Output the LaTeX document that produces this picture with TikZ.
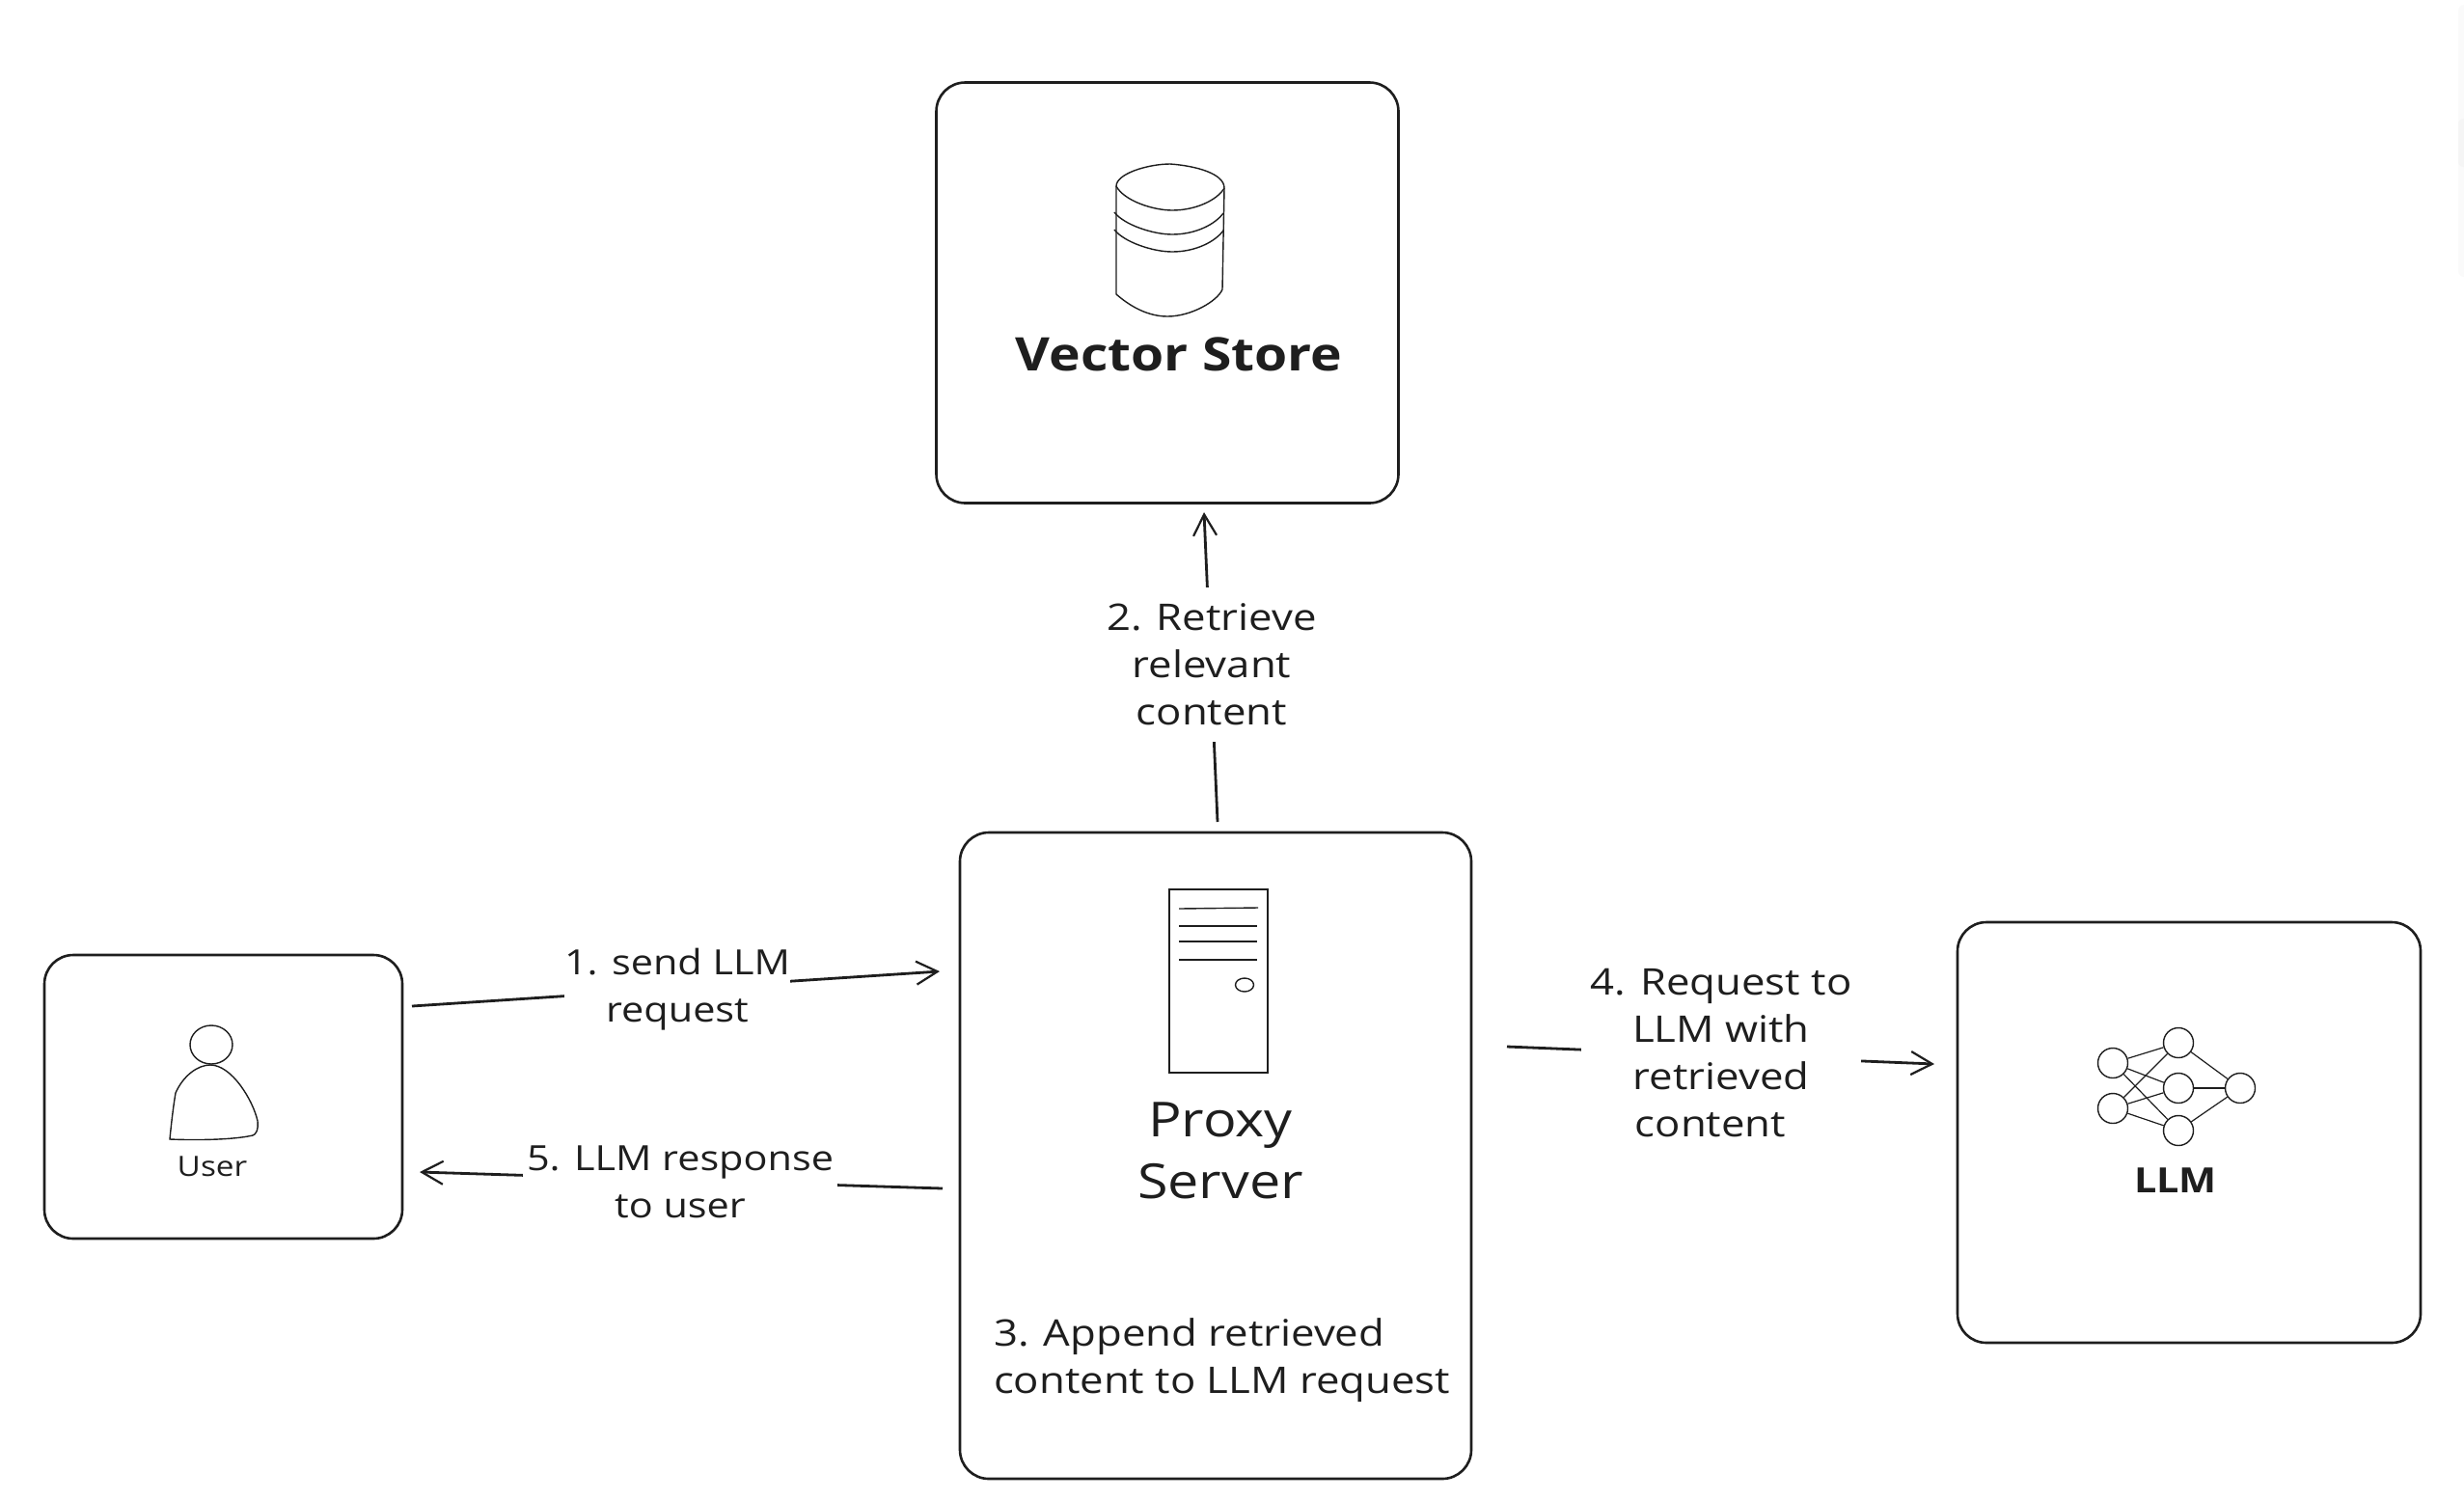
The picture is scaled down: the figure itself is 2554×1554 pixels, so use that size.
\documentclass[tikz,border=0pt]{standalone}
\usepackage{fontspec}
\setmainfont[FakeStretch=1.15]{Open Sans}
\usetikzlibrary{arrows.meta,shapes.geometric}
\definecolor{ink}{HTML}{1E1E1E}
\newcommand{\fsz}[2]{\fontsize{#1}{#2}\selectfont}
\tikzset{
  panel/.style={draw=ink,line width=1.3pt,rounded corners=15pt,inner sep=0pt,fill=white},
  icon/.style={draw=ink,line width=0.7pt},
  neuron/.style={circle,draw=ink,line width=0.7pt,minimum size=15.5pt,inner sep=0pt,fill=white},
  wire/.style={draw=ink,line width=0.6pt},
  flow/.style={draw=ink,line width=1.4pt,-{Straight Barb[length=11pt,width=12pt,line width=1.1pt]}},
  label/.style={fill=white,inner sep=0pt,align=center,text=ink,font=\fsz{19}{24.5}},
  title/.style={align=center,text=ink,inner sep=0pt,font=\fsz{25}{32}},
  scrolltrack/.style={fill=black!2,draw=none,rounded corners=3pt},
  scrollthumb/.style={fill=black!4,draw=none,rounded corners=3pt},
}
\begin{document}
\begin{tikzpicture}[x=0.5pt,y=-0.5pt]
\useasboundingbox (0,0) rectangle (2554,1554);
% faint scroll strip at the page edge
\fill[scrolltrack] (2548,5) rectangle (2560,287);
\fill[scrollthumb] (2548,123) rectangle (2560,173);
% panels
\node[panel,minimum width=239.5pt,minimum height=218pt] (store) at (1210,303.5) {};
\node[panel,minimum width=265pt,minimum height=335pt] (proxy) at (1260,1198) {};
\node[panel,minimum width=240pt,minimum height=218pt] (llm) at (2269,1174) {};
\node[panel,minimum width=185.5pt,minimum height=147pt] (user) at (231.5,1137) {};
% connector ends
\coordinate (a1s) at (427,1043); \coordinate (a1e) at (974,1007);
\coordinate (a5s) at (977,1232); \coordinate (a5e) at (435,1215);
\coordinate (a2s) at (1262,852); \coordinate (a2e) at (1248,531);
\coordinate (a4s) at (1562,1085); \coordinate (a4e) at (2005,1103);
\draw[flow] (a1s) -- (a1e);
\draw[flow] (a5s) -- (a5e);
\draw[flow] (a2s) -- (a2e);
\draw[flow] (a4s) -- (a4e);
% connector labels
\node[label,font=\fsz{18}{24.5},minimum width=116pt] (l1) at (702,1026) {1. send LLM\\request};
\node[label,font=\fsz{18}{24.5},minimum width=163pt] (l5) at (705,1225) {5. LLM response\\to user};
\node[label,minimum height=80pt] (l2) at (1256,689) {2. Retrieve\\relevant\\content};
\node[label,minimum width=145pt] (l4) at (1784,1092) {4. Request to\\LLM with\\retrieved\\content\hspace*{11pt}};
% vector store icon
\draw[icon] (1157,193) .. controls (1157,180) and (1190,170) .. (1213,170) .. controls (1240,172) and (1269,180) .. (1269,195)
  -- (1267,300) .. controls (1262,312) and (1235,328) .. (1210,328) .. controls (1185,328) and (1165,312) .. (1157,305) -- cycle;
\draw[icon] (1157,193) .. controls (1165,208) and (1195,218) .. (1215,218) .. controls (1240,218) and (1262,207) .. (1269,195);
\draw[icon] (1155,220) .. controls (1165,233) and (1195,243) .. (1215,243) .. controls (1240,243) and (1260,232) .. (1268,221);
\draw[icon] (1155,238) .. controls (1165,251) and (1195,261) .. (1215,261) .. controls (1240,261) and (1260,250) .. (1268,239);
\node[title,font=\fsz{24}{30}\bfseries] (storetext) at (1222,367) {Vector Store};
% server icon
\draw[icon] (1212,922) rectangle (1314,1112);
\draw[icon] (1222,942) -- (1304,941);
\draw[icon] (1222,960) -- (1303,960);
\draw[icon] (1222,976) -- (1303,976);
\draw[icon] (1222,995) -- (1303,995);
\draw[icon] (1290,1021) ellipse [x radius=9.5,y radius=7];
\node[title] (proxytext) at (1265,1193) {Proxy\\Server};
\node[title,font=\fsz{19}{24.5},align=left] (step3) at (1266.5,1410) {3. Append retrieved\\content to LLM request};
% neural net
\node[neuron] (i1) at (2190,1102) {};
\node[neuron] (i2) at (2190,1149) {};
\node[neuron] (h1) at (2258,1081) {};
\node[neuron] (h2) at (2258,1128) {};
\node[neuron] (h3) at (2258,1172) {};
\node[neuron] (o1) at (2322,1128) {};
\foreach \a/\b in {i1/h1,i1/h2,i1/h3,i2/h1,i2/h2,i2/h3,h1/o1,h2/o1,h3/o1}
  \draw[wire] (\a) -- (\b);
\node[title,font=\fsz{18}{24}\bfseries] (llmtext) at (2255,1224) {LLM};
% user icon
\draw[icon] (219,1083) ellipse [x radius=22,y radius=20];
\draw[icon] (176,1181) .. controls (178,1160) and (180,1145) .. (182,1133) .. controls (190,1115) and (205,1104) .. (218,1104)
  .. controls (240,1104) and (262,1140) .. (267,1162) .. controls (268,1172) and (265,1176) .. (262,1177)
  .. controls (240,1182) and (200,1182) .. (176,1181) -- cycle;
\node[title,font=\fsz{14.5}{18}] (usertext) at (220,1209) {User};
\end{tikzpicture}
\end{document}
